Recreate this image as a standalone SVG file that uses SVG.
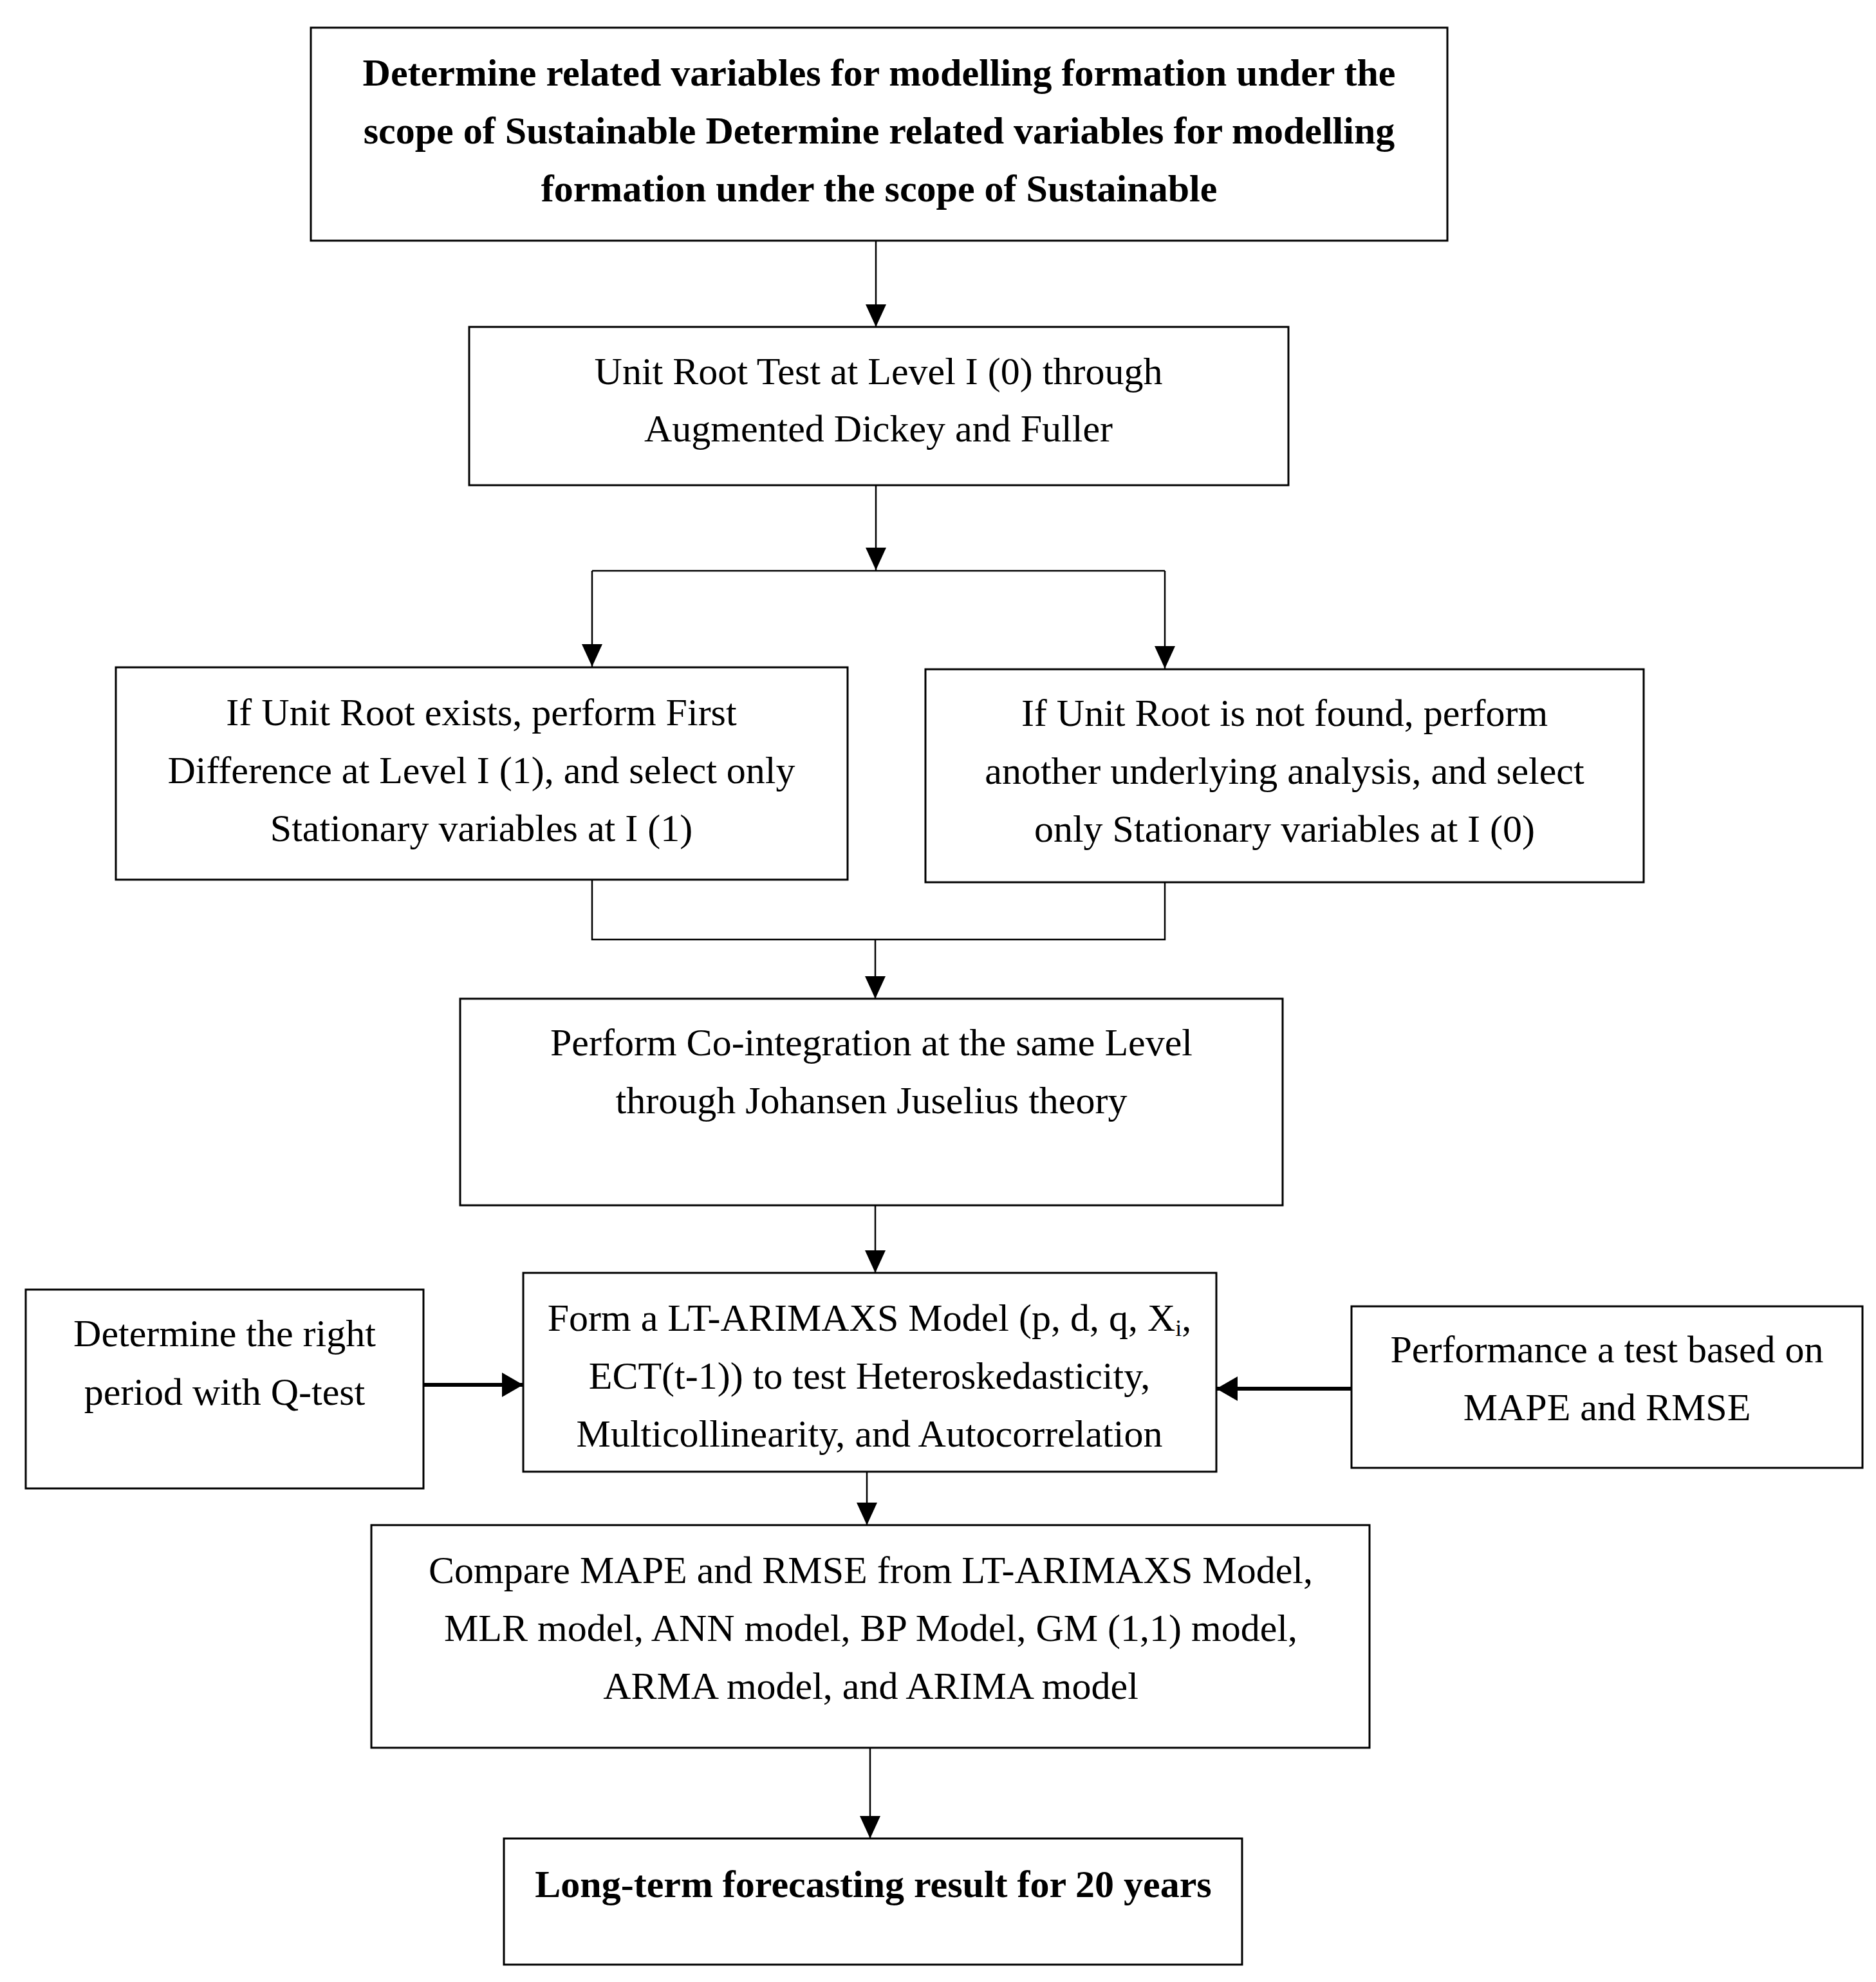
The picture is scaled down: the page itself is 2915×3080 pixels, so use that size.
<svg xmlns="http://www.w3.org/2000/svg" width="2915" height="3080" viewBox="0 0 2915 3080">
<style>
.box{fill:#fff;stroke:#000;stroke-width:3}
.t{font-family:"Liberation Serif","Times New Roman",serif;font-size:60px;fill:#000;text-anchor:middle}
.b{font-weight:bold}
.c{fill:none;stroke:#000;stroke-width:2.5}
.ck{fill:none;stroke:#000;stroke-width:6}
</style>
<defs>
<marker id="ah" markerUnits="userSpaceOnUse" markerWidth="36" markerHeight="32" refX="35" refY="16" orient="auto">
<path d="M0,0 L35,16 L0,32 z" fill="#000"/>
</marker>
<marker id="ahk" markerUnits="userSpaceOnUse" markerWidth="34" markerHeight="38" refX="33" refY="19" orient="auto">
<path d="M0,0 L33,19 L0,38 z" fill="#000"/>
</marker>
</defs>
<rect width="2915" height="3080" fill="#fff"/>
<g id="connectors">
<path class="c" d="M1361,374 V508" marker-end="url(#ah)"/>
<path class="c" d="M1361,754 V886" marker-end="url(#ah)"/>
<path class="c" d="M920,887 H1810"/>
<path class="c" d="M920,887 V1036" marker-end="url(#ah)"/>
<path class="c" d="M1810,887 V1039" marker-end="url(#ah)"/>
<path class="c" d="M920,1367 V1460 H1810 V1371"/>
<path class="c" d="M1360,1460 V1552" marker-end="url(#ah)"/>
<path class="c" d="M1360,1873 V1978" marker-end="url(#ah)"/>
<path class="ck" d="M658,2152 H813" marker-end="url(#ahk)"/>
<path class="ck" d="M2100,2158 H1890" marker-end="url(#ahk)"/>
<path class="c" d="M1347,2287 V2370" marker-end="url(#ah)"/>
<path class="c" d="M1352,2716 V2857" marker-end="url(#ah)"/>
</g>
<g id="n1">
<rect class="box" x="483" y="43" width="1766" height="331"/>
<text class="t b" x="1366" y="133">Determine related variables for modelling formation under the</text>
<text class="t b" x="1366" y="223">scope of Sustainable Determine related variables for modelling</text>
<text class="t b" x="1366" y="313">formation under the scope of Sustainable</text>
</g>
<g id="n2">
<rect class="box" x="729" y="508" width="1273" height="246"/>
<text class="t" x="1365" y="597">Unit Root Test at Level I (0) through</text>
<text class="t" x="1365" y="686">Augmented Dickey and Fuller</text>
</g>
<g id="n3">
<rect class="box" x="180" y="1037" width="1137" height="330"/>
<text class="t" x="748" y="1127">If Unit Root exists, perform First</text>
<text class="t" x="748" y="1217">Difference at Level I (1), and select only</text>
<text class="t" x="748" y="1307">Stationary variables at I (1)</text>
</g>
<g id="n4">
<rect class="box" x="1438" y="1040" width="1116" height="331"/>
<text class="t" x="1996" y="1128">If Unit Root is not found, perform</text>
<text class="t" x="1996" y="1218">another underlying analysis, and select</text>
<text class="t" x="1996" y="1308">only Stationary variables at I (0)</text>
</g>
<g id="n5">
<rect class="box" x="715" y="1552" width="1278" height="321"/>
<text class="t" x="1354" y="1640">Perform Co-integration at the same Level</text>
<text class="t" x="1354" y="1730">through Johansen Juselius theory</text>
</g>
<g id="n6">
<rect class="box" x="813" y="1978" width="1077" height="309"/>
<text class="t" x="1351" y="2068">Form a LT-ARIMAXS Model (p, d, q, X<tspan font-size="36" dy="8">i</tspan><tspan dy="-8">,</tspan></text>
<text class="t" x="1351" y="2158">ECT(t-1)) to test Heteroskedasticity,</text>
<text class="t" x="1351" y="2248">Multicollinearity, and Autocorrelation</text>
</g>
<g id="n7">
<rect class="box" x="40" y="2004" width="618" height="309"/>
<text class="t" x="349" y="2092">Determine the right</text>
<text class="t" x="349" y="2183">period with Q-test</text>
</g>
<g id="n8">
<rect class="box" x="2100" y="2030" width="794" height="251"/>
<text class="t" x="2497" y="2117">Performance a test based on</text>
<text class="t" x="2497" y="2207">MAPE and RMSE</text>
</g>
<g id="n9">
<rect class="box" x="577" y="2370" width="1551" height="346"/>
<text class="t" x="1353" y="2460">Compare MAPE and RMSE from LT-ARIMAXS Model,</text>
<text class="t" x="1353" y="2550">MLR model, ANN model, BP Model, GM (1,1) model,</text>
<text class="t" x="1353" y="2640">ARMA model, and ARIMA model</text>
</g>
<g id="n10">
<rect class="box" x="783" y="2857" width="1147" height="196"/>
<text class="t b" x="1357" y="2948">Long-term forecasting result for 20 years</text>
</g>
</svg>
